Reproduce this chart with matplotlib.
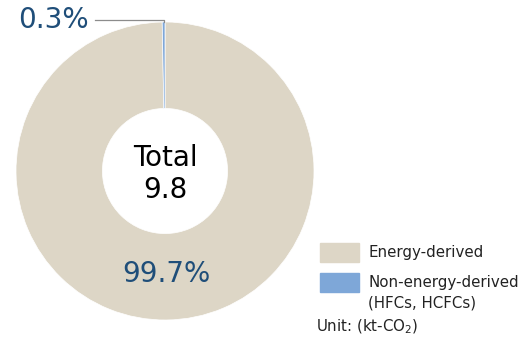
import matplotlib.pyplot as plt
from matplotlib.patches import Rectangle
import numpy as np

plt.rcParams['font.family'] = 'DejaVu Sans'
plt.rcParams['mathtext.fontset'] = 'dejavusans'

# Emissions breakdown (kt-CO2)
labels = ['Energy-derived', 'Non-energy-derived\n(HFCs, HCFCs)']
shares = [99.7, 0.3]
total = 9.8
colors = ['#ddd6c6', '#7ea7d8']
label_color = '#1f4e79'

fig = plt.figure(figsize=(5.23, 3.43), dpi=100)
W, H = 523, 343

# donut centred at (165, 171) px, outer radius 149 px
cx, cy, R = 165, 171, 149
ax = fig.add_axes([(cx - R) / W, (H - cy - R) / H, 2 * R / W, 2 * R / H])
wedges, _ = ax.pie(shares, colors=colors, startangle=90, counterclock=False,
                   radius=1.0, wedgeprops=dict(width=0.58, edgecolor='white', linewidth=0.5))
ax.set_xlim(-1, 1)
ax.set_ylim(-1, 1)
ax.set_aspect('equal')
ax.axis('off')

# big share label inside the ring
w = wedges[0]
mid = np.deg2rad((w.theta1 + w.theta2) / 2)
ax.text(0.69 * np.cos(mid), 0.69 * np.sin(mid), f'{shares[0]}%',
        ha='center', va='center', fontsize=20, color=label_color)

# small share label with leader line
w = wedges[1]
mid = np.deg2rad((w.theta1 + w.theta2) / 2)
x0, y0 = np.cos(mid), np.sin(mid)
ly = 1.013
ax.plot([x0, x0, -0.47], [y0, ly, ly], color='#8c8c8c', lw=0.9, clip_on=False)
ax.text(-0.51, ly, f'{shares[1]}%', ha='right', va='center', fontsize=20,
        color=label_color)

ax.text(0, -0.02, f'Total\n{total}', ha='center', va='center', fontsize=20,
        color='black', linespacing=1.2)

# legend
box_y = [243, 273]
for yy, col, lab in zip(box_y, colors, labels):
    fig.patches.append(Rectangle((320 / W, 1 - (yy + 19) / H), 39 / W, 19 / H,
                                 transform=fig.transFigure, color=col))
    fig.text(368 / W, 1 - (yy + 10) / H, lab.split('\n')[0], ha='left', va='center',
             fontsize=10.8, color='#222222')
    if '\n' in lab:
        fig.text(368 / W, 1 - (yy + 30) / H, lab.split('\n')[1], ha='left',
                 va='center', fontsize=10.8, color='#222222')
fig.text(316 / W, 1 - 327 / H, 'Unit: (kt-CO$_2$)', ha='left', va='center',
         fontsize=10.8, color='#222222')

fig.savefig('out.png', dpi=100)
